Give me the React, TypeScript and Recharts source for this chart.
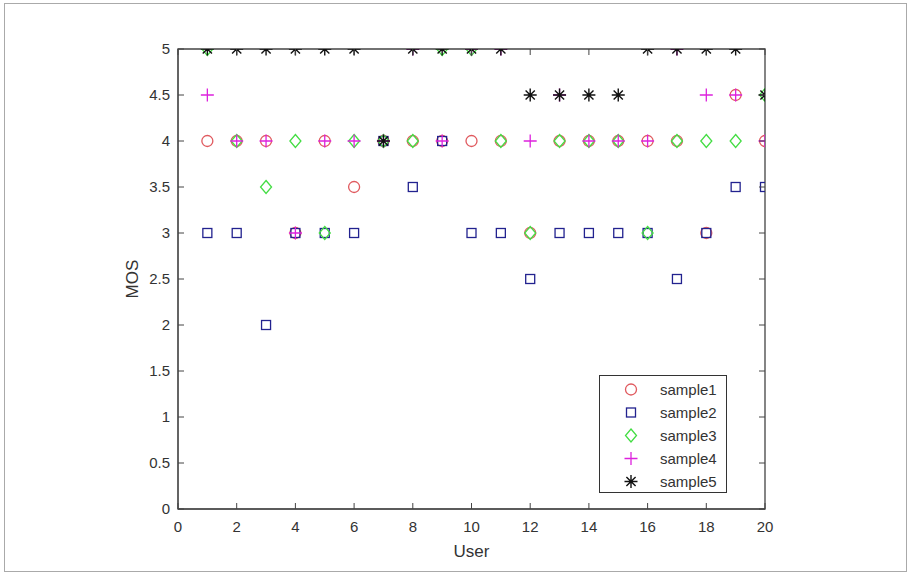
import React from 'react';
import { ScatterChart, Scatter, XAxis, YAxis, ReferenceArea, Legend } from 'recharts';

const users = [1, 2, 3, 4, 5, 6, 7, 8, 9, 10, 11, 12, 13, 14, 15, 16, 17, 18, 19, 20];
const sample1 = [4, 4, 4, 3, 4, 3.5, 4, 4, 4, 4, 4, 3, 4, 4, 4, 4, 4, 3, 4.5, 4];
const sample2 = [3, 3, 2, 3, 3, 3, 4, 3.5, 4, 3, 3, 2.5, 3, 3, 3, 3, 2.5, 3, 3.5, 3.5];
const sample3 = [5, 4, 3.5, 4, 3, 4, 4, 4, 5, 5, 4, 3, 4, 4, 4, 3, 4, 4, 4, 4.5];
const sample4 = [4.5, 4, 4, 3, 4, 4, 4, 5, 4, 5, 5, 4, 4.5, 4, 4, 4, 5, 4.5, 4.5, 4];
const sample5 = [5, 5, 5, 5, 5, 5, 4, 5, 5, 5, 5, 4.5, 4.5, 4.5, 4.5, 5, 5, 5, 5, 4.5];
const seriesNames = ['sample1', 'sample2', 'sample3', 'sample4', 'sample5'];
const xTicks = [0, 2, 4, 6, 8, 10, 12, 14, 16, 18, 20];
const yTicks = [0, 0.5, 1, 1.5, 2, 2.5, 3, 3.5, 4, 4.5, 5];

const W = 911;
const H = 576;
const PL = 178;
const PR = 765;
const PT = 49;
const PB = 509;
const FONT = '"Liberation Sans", Arial, Helvetica, sans-serif';
const AXIS = '#444';
const TXT = '#333';

const COLORS = ['#e05a5f', '#22228f', '#44dd44', '#dd22dd', '#111111'];

const toPts = (vals: number[]) => users.map((u, i) => ({ x: u, y: vals[i] }));

const CircleM = ({ cx, cy, c }: any) => (
  <circle cx={cx} cy={cy} r={5.5} fill="none" stroke={c} strokeWidth={1.3} />
);
const SquareM = ({ cx, cy, c }: any) => (
  <rect x={cx - 4.5} y={cy - 4.5} width={9} height={9} fill="none" stroke={c} strokeWidth={1.3} />
);
const DiamondM = ({ cx, cy, c }: any) => (
  <path d={`M${cx},${cy - 6.5}L${cx + 5.5},${cy}L${cx},${cy + 6.5}L${cx - 5.5},${cy}Z`} fill="none" stroke={c} strokeWidth={1.3} />
);
const PlusM = ({ cx, cy, c }: any) => (
  <path d={`M${cx - 6.5},${cy}H${cx + 6.5}M${cx},${cy - 6.5}V${cy + 6.5}`} fill="none" stroke={c} strokeWidth={1.3} />
);
const StarM = ({ cx, cy, c }: any) => {
  const d = 4.6;
  return (
    <path
      d={`M${cx - 6.5},${cy}H${cx + 6.5}M${cx},${cy - 6.5}V${cy + 6.5}M${cx - d},${cy - d}L${cx + d},${cy + d}M${cx - d},${cy + d}L${cx + d},${cy - d}`}
      fill="none"
      stroke={c}
      strokeWidth={1.4}
    />
  );
};
const MARKERS = [CircleM, SquareM, DiamondM, PlusM, StarM];
const seriesData = [sample1, sample2, sample3, sample4, sample5];

const XTick = (props: any) => {
  const { x, y, payload } = props;
  return (
    <g>
      <line x1={x} y1={y} x2={x} y2={y - 6} stroke={AXIS} strokeWidth={1} />
      <line x1={x} y1={PT} x2={x} y2={PT + 6} stroke={AXIS} strokeWidth={1} />
      <text x={x} y={y + 23} textAnchor="middle" fontSize={15} fontFamily={FONT} fill={TXT}>
        {payload.value}
      </text>
    </g>
  );
};

const YTick = (props: any) => {
  const { x, y, payload } = props;
  return (
    <g>
      <line x1={x} y1={y} x2={x + 6} y2={y} stroke={AXIS} strokeWidth={1} />
      <line x1={PR} y1={y} x2={PR - 6} y2={y} stroke={AXIS} strokeWidth={1} />
      <text x={x - 8} y={y + 5} textAnchor="end" fontSize={15} fontFamily={FONT} fill={TXT}>
        {payload.value}
      </text>
    </g>
  );
};

const LegendBox = () => (
  <div
    style={{
      width: 128,
      height: 118,
      border: '1.3px solid #333',
      background: '#fff',
      boxSizing: 'border-box',
      paddingTop: 2,
    }}
  >
    {seriesNames.map((n, i) => {
      const M = MARKERS[i];
      return (
        <div key={n} style={{ display: 'flex', alignItems: 'center', height: 23 }}>
          <svg width={60} height={23} style={{ display: 'block' }}>
            <M cx={31} cy={11.5} c={COLORS[i]} />
          </svg>
          <span style={{ fontFamily: FONT, fontSize: 15, color: TXT }}>{n}</span>
        </div>
      );
    })}
  </div>
);

export default function App() {
  return (
    <div style={{ position: 'absolute', left: 0, top: 0, width: W, height: H, background: '#fff' }}>
      <div
        style={{
          position: 'absolute',
          left: 4,
          top: 3,
          width: 903,
          height: 569,
          border: '1.5px solid #aaa',
          boxSizing: 'border-box',
        }}
      />
      <ScatterChart
        width={W}
        height={H}
        margin={{ top: PT, right: W - PR, bottom: 0, left: 0 }}
        style={{ position: 'absolute', left: 0, top: 0 }}
      >
        <XAxis
          type="number"
          dataKey="x"
          domain={[0, 20]}
          ticks={xTicks}
          interval={0}
          height={H - PB}
          tickSize={0}
          tickMargin={0}
          tick={<XTick />}
          axisLine={{ stroke: AXIS }}
          allowDataOverflow
          label={{
            content: () => (
              <text x={(PL + PR) / 2} y={557} textAnchor="middle" fontSize={17} fontFamily={FONT} fill={TXT}>
                User
              </text>
            ),
          }}
        />
        <YAxis
          type="number"
          dataKey="y"
          domain={[0, 5]}
          ticks={yTicks}
          interval={0}
          width={PL}
          tickSize={0}
          tickMargin={0}
          tick={<YTick />}
          axisLine={{ stroke: AXIS }}
          allowDataOverflow
          label={{
            content: () => (
              <text
                x={138}
                y={(PT + PB) / 2}
                textAnchor="middle"
                fontSize={17}
                fontFamily={FONT}
                fill={TXT}
                transform={`rotate(-90, 138, ${(PT + PB) / 2})`}
              >
                MOS
              </text>
            ),
          }}
        />
        <ReferenceArea x1={0} x2={20} y1={0} y2={5} fill="none" fillOpacity={0} stroke={AXIS} strokeWidth={1.3} ifOverflow="visible" />
        {seriesData.map((vals, i) => {
          const M = MARKERS[i];
          return (
            <Scatter
              key={seriesNames[i]}
              name={seriesNames[i]}
              data={toPts(vals)}
              isAnimationActive={false}
              shape={(p: any) => <M cx={p.cx} cy={p.cy} c={COLORS[i]} />}
            />
          );
        })}
        <Legend
          content={<LegendBox />}
          layout="vertical"
          align="center"
          verticalAlign="middle"
          wrapperStyle={{ position: 'absolute', left: 599, top: 375, width: 128, height: 118 }}
        />
      </ScatterChart>
    </div>
  );
}
